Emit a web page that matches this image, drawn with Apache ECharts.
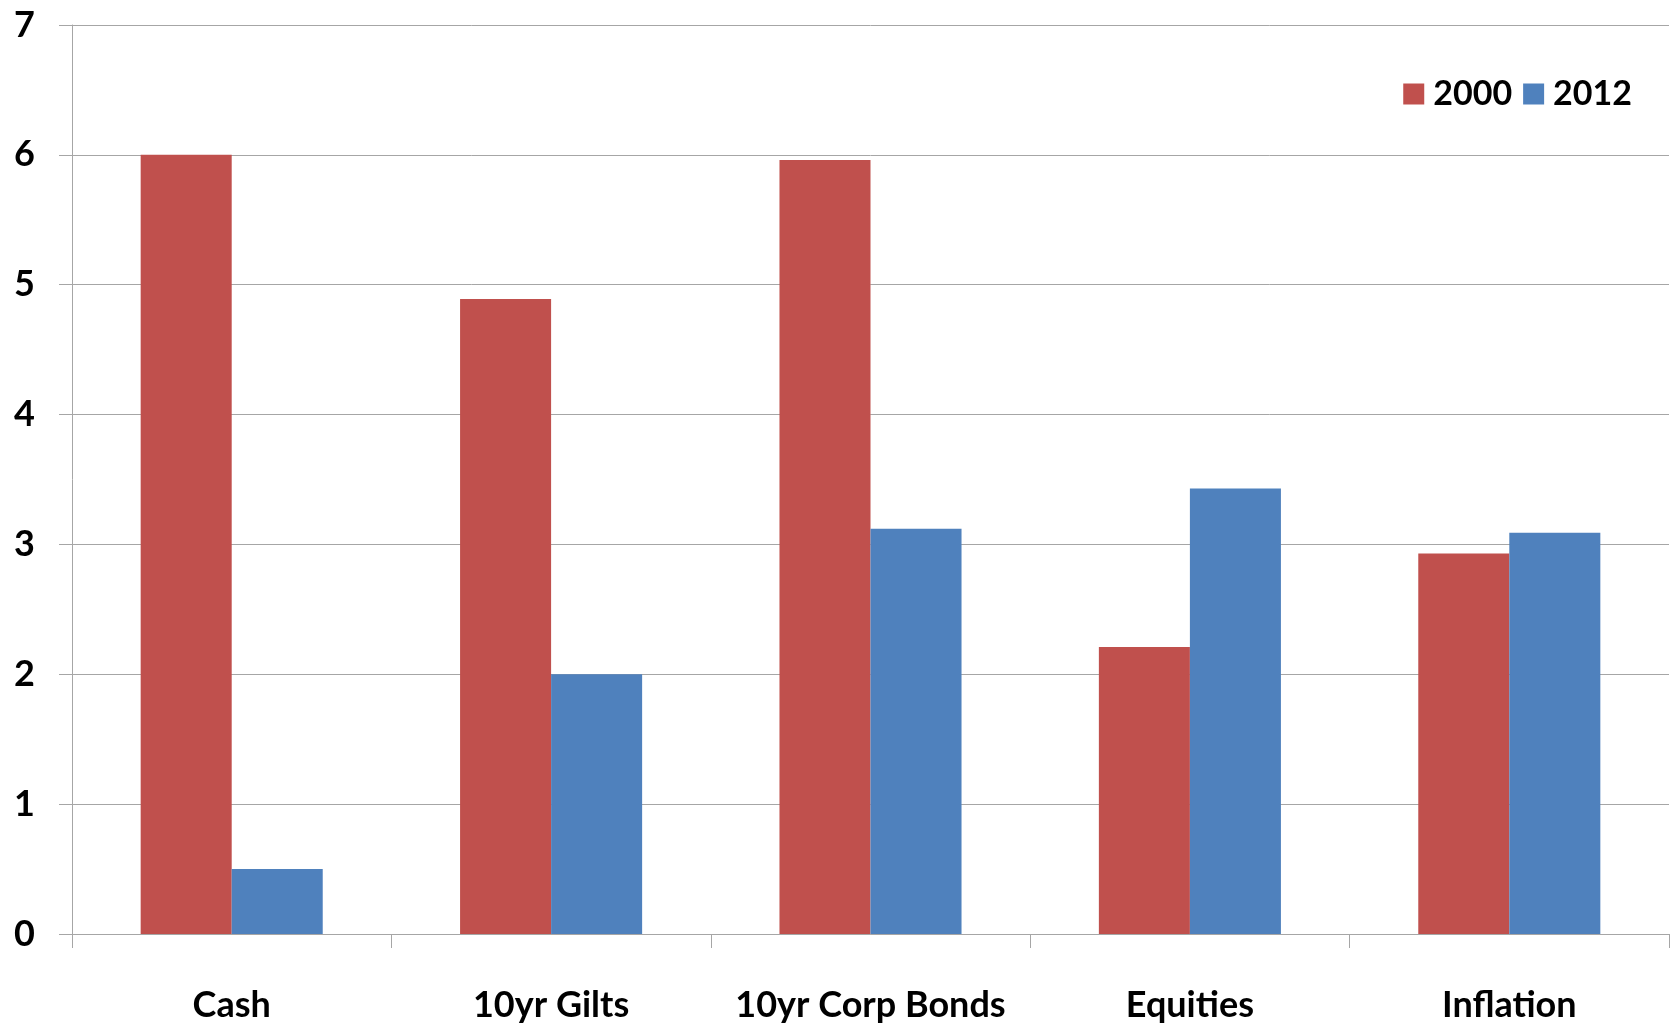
<!DOCTYPE html>
<html>
<head>
<meta charset="utf-8">
<script src="https://cdn.jsdelivr.net/npm/echarts@6/dist/echarts.min.js"></script>
<style>
  html, body { margin: 0; padding: 0; background: #fff; }
  #chart { width: 1675px; height: 1024px; }
</style>
</head>
<body>
<div id="chart"></div>
<script>
// data
var categories = ['Cash', '10yr Gilts', '10yr Corp Bonds', 'Equities', 'Inflation']
var values2000 = [6.0, 4.89, 5.96, 2.21, 2.93]
var values2012 = [0.5, 2.0, 3.12, 3.43, 3.09]
var yTicks = [0, 1, 2, 3, 4, 5, 6, 7]

var FONT = 'Lato'
var GRID_COLOR = '#a6a6a6'

var chart = echarts.init(document.getElementById('chart'))
chart.setOption({
  animation: false,
  color: ['#C0504D', '#4F81BD'],
  textStyle: { fontFamily: FONT },
  legend: {
    right: 38,
    top: 72,
    icon: 'rect',
    itemWidth: 21,
    itemHeight: 21,
    itemGap: 11,
    textStyle: { fontFamily: FONT, fontWeight: 'bold', fontSize: 34, color: '#000', padding: [0, 0, 0, 4] },
    data: ['2000', '2012']
  },
  grid: { left: 72, right: 6, top: 25, bottom: 90, containLabel: false },
  xAxis: {
    type: 'category',
    data: categories,
    axisLine: { lineStyle: { color: GRID_COLOR, width: 1 } },
    axisTick: { show: true, interval: 0, length: 14, lineStyle: { color: GRID_COLOR } },
    axisLabel: { interval: 0, margin: 53, fontFamily: FONT, fontWeight: 'bold', fontSize: 36, color: '#000' }
  },
  yAxis: {
    type: 'value',
    min: yTicks[0],
    max: yTicks[yTicks.length - 1],
    interval: 1,
    axisLine: { show: true, lineStyle: { color: GRID_COLOR, width: 1 } },
    axisTick: { show: true, length: 13, lineStyle: { color: GRID_COLOR } },
    splitLine: { show: true, lineStyle: { color: GRID_COLOR, width: 1 } },
    axisLabel: { margin: 37, fontFamily: FONT, fontWeight: 'bold', fontSize: 36, color: '#000' }
  },
  series: [
    { name: '2000', type: 'bar', data: values2000, barGap: '0%', barCategoryGap: '43%' },
    { name: '2012', type: 'bar', data: values2012, barGap: '0%', barCategoryGap: '43%' }
  ]
})
</script>
</body>
</html>
